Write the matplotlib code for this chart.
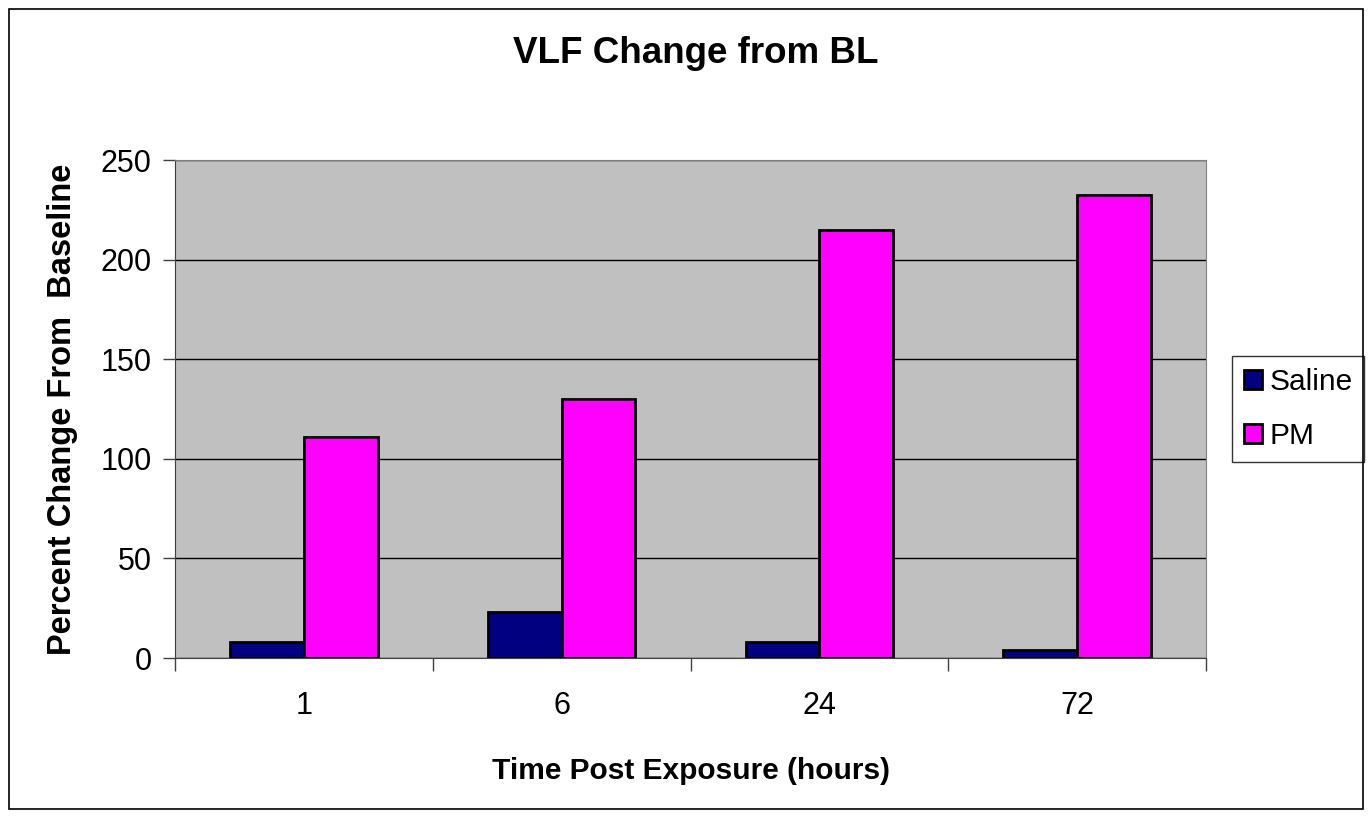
import numpy as np
import matplotlib.pyplot as plt
from matplotlib.patches import Rectangle

plt.rcParams['font.family'] = ['Liberation Sans', 'DejaVu Sans']

hours = ['1', '6', '24', '72']
saline = [8, 23, 8, 4]
pm = [111, 130, 215, 232.5]

fig = plt.figure(figsize=(13.72, 8.16), dpi=100)
ax = fig.add_axes([175 / 1372, 1 - 658 / 816, 1031 / 1372, 498 / 816])

# outer chart border
fig.patches.append(Rectangle((9 / 1372, 7 / 816), 1354 / 1372, 800 / 816,
                             transform=fig.transFigure, fill=False,
                             edgecolor='black', linewidth=1.2))

x = np.arange(len(hours))
w = 1 / 3.5
ax.set_facecolor('#C0C0C0')
ax.bar(x - w / 2, saline, w, color='#000080', edgecolor='black', linewidth=2,
       label='Saline', zorder=3)
ax.bar(x + w / 2, pm, w, color='#FF00FF', edgecolor='black', linewidth=2,
       label='PM', zorder=3)

ax.set_xlim(-0.5, len(hours) - 0.5)
ax.set_ylim(0, 250)
ax.set_yticks(range(0, 251, 50))
ax.yaxis.grid(True, color='black', linewidth=1)
ax.set_axisbelow(True)

ax.set_xticks(x)
ax.set_xticklabels(hours)
ax.set_xticks(np.arange(-0.5, len(hours), 1), minor=True)
ax.tick_params(axis='x', which='major', length=0, pad=24, labelsize=22)
ax.tick_params(axis='x', which='minor', length=9, width=1, color='#404040')
ax.tick_params(axis='y', length=9, width=1, color='#404040', labelsize=22, pad=8)

for s in ['top', 'right']:
    ax.spines[s].set_color('#808080')
for s in ['left', 'bottom']:
    ax.spines[s].set_color('#404040')

ax.set_title('VLF Change from BL', fontsize=26.5, fontweight='bold', pad=70, x=0.505)
ax.set_xlabel('Time Post Exposure (hours)', fontsize=21.5, fontweight='bold', labelpad=26)
ax.set_ylabel('Percent Change From  Baseline', fontsize=23.5, fontweight='bold', labelpad=16)

leg = ax.legend(loc='center left', bbox_to_anchor=(1.025, 0.5), fontsize=21.5,
                frameon=True, fancybox=False, edgecolor='black',
                handlelength=0.6, handleheight=0.6, handletextpad=0.25,
                borderpad=0.4, labelspacing=0.85, borderaxespad=0)
leg.get_frame().set_linewidth(1)

fig.savefig('out.png', dpi=100)
